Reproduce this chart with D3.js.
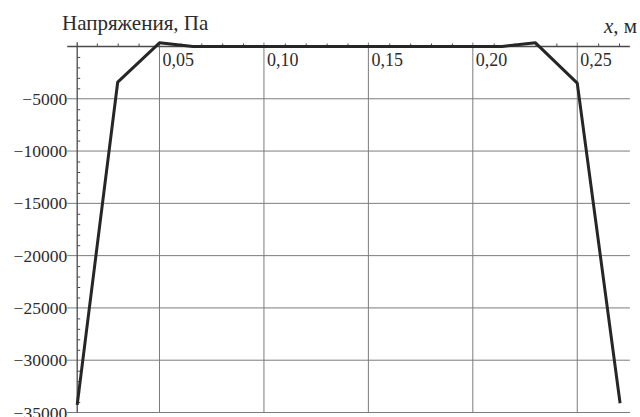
<!DOCTYPE html>
<html>
<head>
<meta charset="utf-8">
<script src="https://cdn.jsdelivr.net/npm/d3@7"></script>
<style>
  html, body { margin: 0; padding: 0; background: #fff; }
  svg { display: block; }
</style>
</head>
<body>
<svg id="chart" width="640" height="417"></svg>
<script>
// Stress along the element, x in metres, stress in pascals
const xValues = [0.0106, 0.03, 0.05, 0.066, 0.214, 0.23, 0.25, 0.2705];
const stressValues = [-34270, -3400, 350, 0, 0, 350, -3500, -34110];

const xMajorTicks = [0.05, 0.10, 0.15, 0.20, 0.25];
const yMajorTicks = [-5000, -10000, -15000, -20000, -25000, -30000, -35000];
const yTitle = "Напряжения, Па";
const xTitleVar = "x";
const xTitleUnit = ", м";

const serif = "'Liberation Serif', 'Times New Roman', Times, serif";
const textColor = "#2b2b2b";

const svg = d3.select("#chart");

const x = d3.scaleLinear().domain([0.0106, 0.2752]).range([77.2, 629.9]);
const y = d3.scaleLinear().domain([-35000, 400]).range([412.5, 42.3]);

const gridColor = "#7c7c7c";
const axisColor = "#4a4a4a";
const fmtX = d => d.toFixed(2).replace(".", ",");
const fmtY = d => (d < 0 ? "\u2212" : "") + Math.abs(d);

// Horizontal grid lines (extend a little left of the axis as major ticks)
svg.append("g").selectAll("line").data(yMajorTicks).join("line")
  .attr("x1", x.range()[0] - 10).attr("x2", x.range()[1])
  .attr("y1", d => y(d)).attr("y2", d => y(d))
  .attr("stroke", gridColor).attr("stroke-width", 1);

// Vertical grid lines (poke slightly above the x axis)
svg.append("g").selectAll("line").data(xMajorTicks).join("line")
  .attr("x1", d => x(d)).attr("x2", d => x(d))
  .attr("y1", y(0) - 4).attr("y2", y(-35000))
  .attr("stroke", gridColor).attr("stroke-width", 1);

// x axis along y = 0 with minor ticks pointing up
const xAxis = d3.axisTop(x)
  .tickValues(d3.range(2, 28).map(i => i / 100).filter(v => Math.round(v * 100) % 5 !== 0))
  .tickSize(3).tickFormat("");
svg.append("g").attr("transform", `translate(0,${y(0)})`).call(xAxis)
  .call(g => g.select(".domain").remove())
  .call(g => g.selectAll("line").attr("stroke", axisColor));
svg.append("line")
  .attr("x1", x.range()[0] - 10).attr("x2", x.range()[1])
  .attr("y1", y(0)).attr("y2", y(0))
  .attr("stroke", axisColor).attr("stroke-width", 1.3);

// y axis with minor ticks pointing right
const yMinor = d3.range(-34, 0).map(i => i * 1000).filter(v => v % 5000 !== 0);
const yAxis = d3.axisRight(y).tickValues(yMinor).tickSize(3).tickFormat("");
svg.append("g").attr("transform", `translate(${x.range()[0]},0)`).call(yAxis)
  .call(g => g.select(".domain").remove())
  .call(g => g.selectAll("line").attr("stroke", axisColor));
svg.append("line")
  .attr("x1", x.range()[0]).attr("x2", x.range()[0])
  .attr("y1", y.range()[1]).attr("y2", y.range()[0])
  .attr("stroke", axisColor).attr("stroke-width", 1.3);

// Tick labels
svg.append("g").selectAll("text").data(xMajorTicks).join("text")
  .attr("x", d => x(d) + 3).attr("y", y(0) + 20)
  .attr("font-family", serif).attr("fill", textColor)
  .attr("font-size", 18).text(fmtX);

svg.append("g").selectAll("text").data(yMajorTicks).join("text")
  .attr("x", x.range()[0] - 10).attr("y", d => y(d) + 6)
  .attr("font-family", serif).attr("fill", textColor)
  .attr("text-anchor", "end").attr("font-size", 17.5).text(fmtY);

// Axis titles
svg.append("text").attr("x", 62).attr("y", 30)
  .attr("font-family", serif).attr("fill", textColor)
  .attr("font-size", 21).text(yTitle);
const xt = svg.append("text").attr("x", 604).attr("y", 33)
  .attr("font-family", serif).attr("fill", textColor).attr("font-size", 21);
xt.append("tspan").attr("font-style", "italic").text(xTitleVar);
xt.append("tspan").text(xTitleUnit);

// Stress curve
const line = d3.line().x((d, i) => x(xValues[i])).y(d => y(d));
svg.append("path").datum(stressValues)
  .attr("d", line)
  .attr("fill", "none").attr("stroke", "#262626")
  .attr("stroke-width", 3).attr("stroke-linejoin", "round");
</script>
</body>
</html>
